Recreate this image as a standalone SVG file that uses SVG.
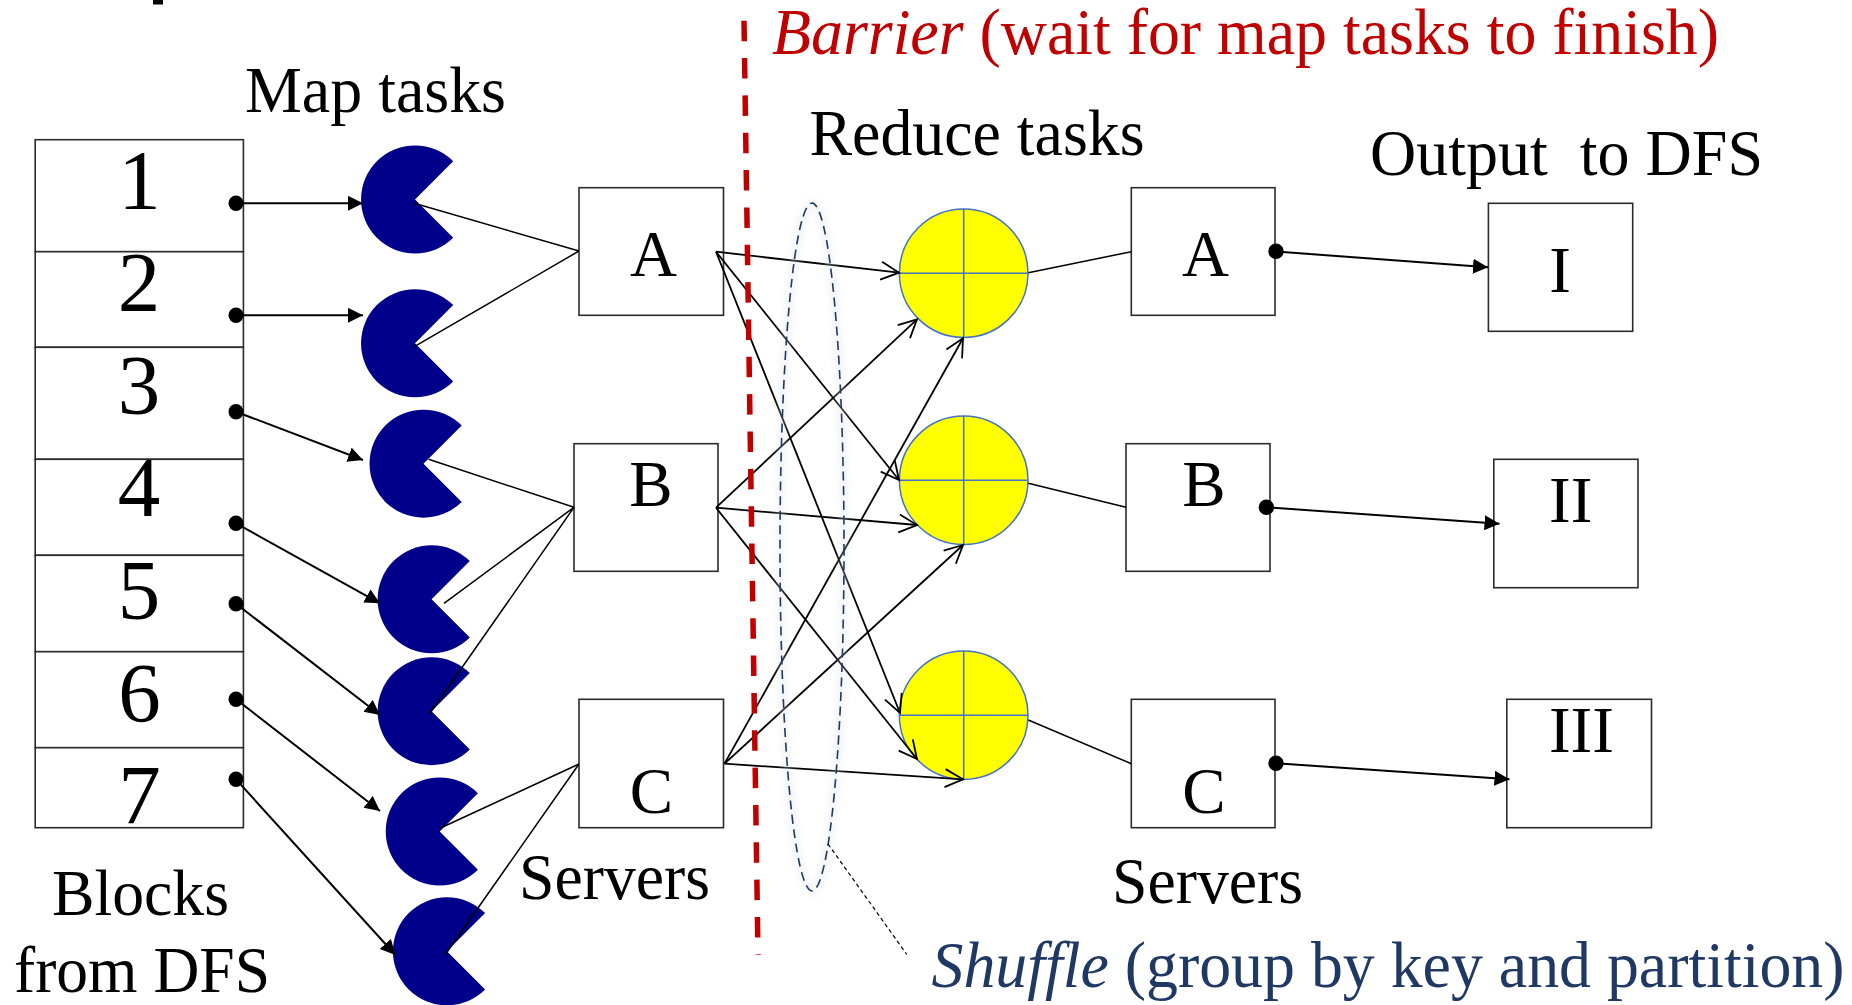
<svg xmlns="http://www.w3.org/2000/svg" width="1852" height="1005" viewBox="0 0 1852 1005">
<defs>
<style>
text{font-family:"Liberation Serif","Times New Roman",serif;fill:#000}
.box{fill:#fff;stroke:#2b2b2b;stroke-width:1.6}
.pac{fill:#00008b}
.rt{fill:#ff0;stroke:#4472c4;stroke-width:1.5}
.ln{stroke:#000;stroke-width:1.5;fill:none}
.ah{stroke:#000;stroke-width:2;fill:none;marker-end:url(#fa)}
.op{stroke:#000;stroke-width:1.8;fill:none;marker-end:url(#oa)}
.lbl{font-size:65px}
.dg{font-size:85px;text-anchor:middle}
.mid{text-anchor:middle;font-size:65px}
</style>
<marker id="fa" markerUnits="userSpaceOnUse" markerWidth="18" markerHeight="18" refX="15" refY="7.5" orient="auto"><path d="M0,0L15,7.5L0,15Z" fill="#000"/></marker>
<marker id="oa" markerUnits="userSpaceOnUse" markerWidth="22" markerHeight="24" refX="19" refY="11" orient="auto"><path d="M1,2L19,11L1,20" fill="none" stroke="#000" stroke-width="1.8"/></marker>
<path id="p" d="M38.2,-38.2A54,54 0 1 0 38.2,38.2L0,0Z"/>
<filter id="gl" x="-30%" y="-5%" width="160%" height="110%"><feGaussianBlur stdDeviation="4"/></filter>
</defs>
<rect width="1852" height="1005" fill="#fff"/>
<rect x="153" y="0" width="10" height="4.5" fill="#000"/>
<g id="blocks">
<rect class="box" x="35.2" y="139.7" width="208.2" height="112"/>
<rect class="box" x="35.2" y="251.7" width="208.2" height="95.6"/>
<rect class="box" x="35.2" y="347.3" width="208.2" height="112"/>
<rect class="box" x="35.2" y="459.3" width="208.2" height="96"/>
<rect class="box" x="35.2" y="555.3" width="208.2" height="96.4"/>
<rect class="box" x="35.2" y="651.7" width="208.2" height="96"/>
<rect class="box" x="35.2" y="747.7" width="208.2" height="80"/>
<text class="dg" x="139.5" y="208.5">1</text>
<text class="dg" x="139" y="311">2</text>
<text class="dg" x="139" y="413.5">3</text>
<text class="dg" x="139" y="515.5">4</text>
<text class="dg" x="139" y="618.5">5</text>
<text class="dg" x="139.5" y="721.5">6</text>
<text class="dg" x="139.5" y="823.5">7</text>
</g>
<g id="map-tasks">
<use class="pac" href="#p" x="415" y="199.5"/>
<use class="pac" href="#p" x="415" y="343.3"/>
<use class="pac" href="#p" x="423.5" y="463.7"/>
<use class="pac" href="#p" x="431.6" y="599.3"/>
<use class="pac" href="#p" x="431.6" y="711.3"/>
<use class="pac" href="#p" x="439.7" y="831.5"/>
<use class="pac" href="#p" x="446.9" y="951.3"/>
</g>
<g id="servers-left">
<rect class="box" x="579" y="187.7" width="144.5" height="127.6"/>
<rect class="box" x="574" y="443.7" width="144" height="127.6"/>
<rect class="box" x="579" y="699.3" width="144.5" height="128.4"/>
<text class="mid" x="653.6" y="275.5">A</text>
<text class="mid" x="651" y="505.5">B</text>
<text class="mid" x="651.5" y="813">C</text>
</g>
<g id="reduce-tasks">
<g id="r1"><ellipse class="rt" cx="963.7" cy="273.2" rx="64.3" ry="64.2"/><path class="rt" d="M899.4,273.2H1028M963.7,209V337.4"/></g>
<g id="r2"><ellipse class="rt" cx="963.7" cy="480.3" rx="64.3" ry="64.2"/><path class="rt" d="M899.4,480.3H1028M963.7,416V544.5"/></g>
<g id="r3"><ellipse class="rt" cx="963.7" cy="715.2" rx="64.3" ry="64.2"/><path class="rt" d="M899.4,715.2H1028M963.7,651V779.4"/></g>
</g>
<g id="servers-right">
<rect class="box" x="1131.3" y="187.7" width="143.7" height="127.6"/>
<rect class="box" x="1126" y="443.7" width="144" height="127.6"/>
<rect class="box" x="1131.3" y="699.3" width="143.7" height="128.4"/>
<text class="mid" x="1205.5" y="275.5">A</text>
<text class="mid" x="1204" y="505.5">B</text>
<text class="mid" x="1204" y="813">C</text>
</g>
<g id="outputs">
<rect class="box" x="1488.4" y="203.3" width="144.3" height="128"/>
<rect class="box" x="1493.8" y="459.3" width="144.2" height="128.4"/>
<rect class="box" x="1506.8" y="699.3" width="144.7" height="128.4"/>
<text class="mid" x="1560" y="291.7">I</text>
<text class="mid" x="1570.7" y="522">II</text>
<text class="mid" x="1581.4" y="752">III</text>
</g>
<g id="connectors">
<g fill="#000">
<ellipse cx="236" cy="203.3" rx="7.5" ry="7.7"/><ellipse cx="236" cy="315.3" rx="7.5" ry="7.7"/><ellipse cx="236" cy="411.7" rx="7.5" ry="7.7"/><ellipse cx="236" cy="523.3" rx="7.5" ry="7.7"/><ellipse cx="236" cy="603.7" rx="7.5" ry="7.7"/><ellipse cx="236" cy="699.3" rx="7.5" ry="7.7"/><ellipse cx="236" cy="779.3" rx="7.5" ry="7.7"/>
<ellipse cx="1276" cy="251.3" rx="7.7" ry="7.7"/><ellipse cx="1266.4" cy="507.3" rx="7.7" ry="7.7"/><ellipse cx="1276" cy="763.3" rx="7.7" ry="7.7"/>
</g>
<path class="ah" d="M236,203.3H363"/>
<path class="ah" d="M236,315.3H363"/>
<path class="ah" d="M236,411.7L363,460"/>
<path class="ah" d="M236,523.3L380,603.3"/>
<path class="ah" d="M236,603.7L380,715"/>
<path class="ah" d="M236,699.3L380,811"/>
<path class="ah" d="M236,779.3L395.4,955"/>
<path class="ln" d="M414.3,203.3L579,251M414.3,346.7L579,251M428.6,459.3L574,507.3M444,603.3L574,507.3M430,713.3L574,507.3M440,828.3L579,764M445,955L579,764"/>
<path class="ln" d="M1028.3,272.7L1131.3,251.7M1028.3,483.3L1126,507.3M1028.3,720L1131.3,763.7"/>
<path class="op" d="M716,251.7L899,272.7"/>
<path class="op" d="M716,251.7L899,480"/>
<path class="op" d="M716,251.7L900,713"/>
<path class="op" d="M716,507.7L917,319.3"/>
<path class="op" d="M716,507.7L917,525"/>
<path class="op" d="M716,507.7L917,759"/>
<path class="op" d="M724.5,763.7L963,338.3"/>
<path class="op" d="M724.5,763.7L963,545"/>
<path class="op" d="M724.5,763.7L963,779.3"/>
<path class="ah" d="M1276,251.5L1488,267.3"/>
<path class="ah" d="M1266.4,507.3L1499.5,523.7"/>
<path class="ah" d="M1276,763.3L1509.5,779.3"/>
<path d="M744,20.7L758,955" fill="none" stroke="#c00000" stroke-width="5.5" stroke-dasharray="20.5 16.85"/>
<ellipse cx="812" cy="547" rx="32" ry="344" fill="none" stroke="#dde0e6" stroke-width="3" filter="url(#gl)"/>
<ellipse cx="812" cy="547" rx="32" ry="344" fill="none" stroke="#1f3864" stroke-width="1.6" stroke-dasharray="9 5.5"/>
<path d="M828,844L906.7,954.3" fill="none" stroke="#000" stroke-width="1.2" stroke-dasharray="4 3"/>
</g>
<g id="labels">
<text class="lbl" x="245" y="111.7" textLength="261" lengthAdjust="spacingAndGlyphs">Map tasks</text>
<text class="lbl" x="809.5" y="155" textLength="335" lengthAdjust="spacingAndGlyphs">Reduce tasks</text>
<text class="lbl" x="1370" y="175" textLength="393" lengthAdjust="spacingAndGlyphs" xml:space="preserve">Output  to DFS</text>
<text class="lbl" x="52" y="915" textLength="177" lengthAdjust="spacingAndGlyphs">Blocks</text>
<text class="lbl" x="14" y="991.7" textLength="256" lengthAdjust="spacingAndGlyphs">from DFS</text>
<text class="lbl" x="519" y="899.3" textLength="191" lengthAdjust="spacingAndGlyphs">Servers</text>
<text class="lbl" x="1112" y="902.7" textLength="191" lengthAdjust="spacingAndGlyphs">Servers</text>
<text class="lbl" x="772" y="53.5" textLength="947" lengthAdjust="spacingAndGlyphs" style="fill:#c00000"><tspan font-style="italic">Barrier</tspan> (wait for map tasks to finish)</text>
<text class="lbl" x="931.5" y="986.7" textLength="913" lengthAdjust="spacingAndGlyphs" style="fill:#1f3864"><tspan font-style="italic">Shuffle</tspan> (group by key and partition)</text>
</g>
</svg>
